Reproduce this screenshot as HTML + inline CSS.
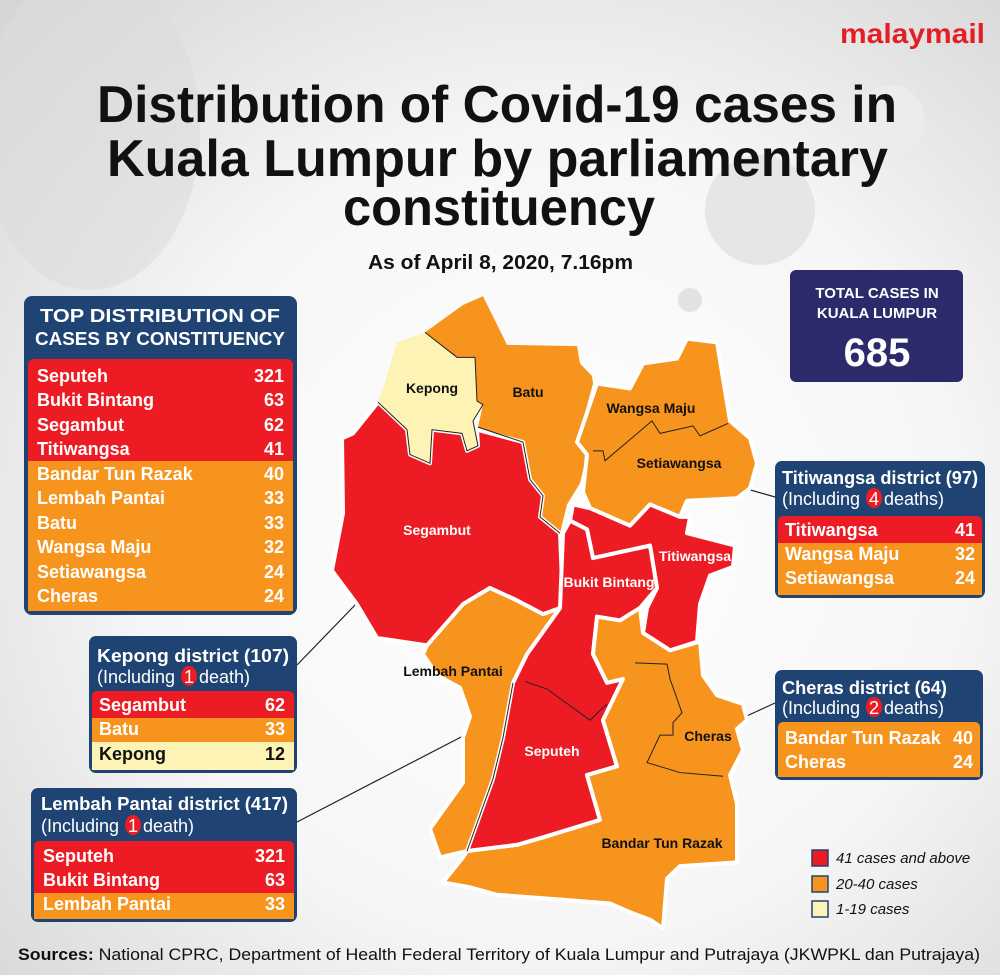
<!DOCTYPE html>
<html><head><meta charset="utf-8"><style>
html,body{margin:0;padding:0;}
body{width:1000px;height:975px;overflow:hidden;font-family:"Liberation Sans",sans-serif;}
</style></head><body>
<svg width="1000" height="975" viewBox="0 0 1000 975" xmlns="http://www.w3.org/2000/svg" font-family="Liberation Sans, sans-serif">
<defs>
<radialGradient id="bg" cx="0.55" cy="0.55" r="0.75">
<stop offset="0" stop-color="#ffffff"/><stop offset="0.55" stop-color="#f6f6f6"/><stop offset="1" stop-color="#d6d6d6"/>
</radialGradient>
</defs>
<rect width="1000" height="975" fill="url(#bg)"/>
<circle cx="760" cy="210" r="55" fill="#e6e6e6"/>
<circle cx="690" cy="300" r="12" fill="#e2e2e2"/>
<circle cx="890" cy="120" r="35" fill="#ececec"/>
<ellipse cx="90" cy="130" rx="110" ry="160" fill="#dcdcdc" opacity="0.6"/>

<text x="985" y="43" text-anchor="end" font-size="28" font-weight="bold" fill="#e31e24" textLength="145" lengthAdjust="spacingAndGlyphs">malaymail</text>

<g font-weight="bold" fill="#111" text-anchor="start">
<text x="97" y="122" font-size="52" textLength="800" lengthAdjust="spacingAndGlyphs">Distribution of Covid-19 cases in</text>
<text x="107" y="176" font-size="52" textLength="781" lengthAdjust="spacingAndGlyphs">Kuala Lumpur by parliamentary</text>
<text x="343" y="225" font-size="52" textLength="312" lengthAdjust="spacingAndGlyphs">constituency</text>
<text x="368" y="269" font-size="20" textLength="265" lengthAdjust="spacingAndGlyphs">As of April 8, 2020, 7.16pm</text>
</g>

<g stroke="#222" stroke-width="1.2">
<line x1="775" y1="497" x2="740" y2="487"/>
<line x1="775" y1="703" x2="738" y2="720"/>
<line x1="297" y1="665" x2="357" y2="603"/>
<line x1="297" y1="822" x2="465" y2="735"/>
</g>

<g transform="translate(0,280) scale(1,1.247) translate(0,-280)">
<g stroke="#fff" stroke-width="4" stroke-linejoin="round">
<polygon fill="#f7941d" points="425,322 463,300 483,293 507,332 577,333 580,347 592,357 593,363 577,410 587,420 580,443 567,460 560,483 540,470 543,453 530,440 523,410 478,398 483,380 477,377 475,342 457,342" stroke="none"/>
<polygon vector-effect="non-scaling-stroke" fill="#ed1c24" points="378,378 407,400 410,420 430,427 432,400 462,403 467,417 478,413 477,400 523,410 530,440 543,453 540,470 560,483 563,543 543,548 517,537 490,527 463,540 453,560 427,573 377,567 357,540 332,513 343,467 342,407 353,403"/>
<polygon fill="#fdf3b5" points="397,330 425,322 457,342 475,342 477,377 483,380 473,393 478,413 467,417 462,403 432,400 430,427 410,420 407,400 378,378 385,362" stroke="none"/>
<polygon vector-effect="non-scaling-stroke" fill="#f7941d" points="597,363 630,367 643,347 677,343 687,327 717,330 730,393 750,407 757,427 750,447 737,455 687,457 680,470 650,460 630,477 590,463 583,450 587,420 577,410"/>
<polygon vector-effect="non-scaling-stroke" fill="#ed1c24" points="650,460 680,470 690,470 687,483 735,493 733,510 710,517 700,540 697,570 670,577 643,563 647,543 657,527 650,493 593,503 587,480 570,473 573,460 590,463 630,477"/>
<polygon vector-effect="non-scaling-stroke" fill="#ed1c24" points="570,473 587,480 593,503 650,493 657,527 640,543 620,553 597,550 593,580 607,603 623,600 603,633 617,670 587,677 600,713 543,727 517,733 467,738 493,680 503,647 513,603 527,580 560,543 563,483"/>
<polygon vector-effect="non-scaling-stroke" fill="#f7941d" points="427,573 463,540 490,527 517,537 543,548 560,543 527,580 513,603 503,647 493,680 467,738 440,743 430,720 463,683 463,647 470,630 460,607 437,597 423,580"/>
<polygon vector-effect="non-scaling-stroke" fill="#f7941d" points="597,550 620,553 640,543 643,563 670,577 700,570 703,597 717,613 743,620 747,633 737,640 743,657 730,677 737,700 737,747 680,750 667,760 663,800 650,793 630,787 610,780 563,777 497,773 470,767 443,763 463,743 467,738 517,733 543,727 600,713 587,677 617,670 603,633 623,600 607,603 593,580"/>
</g>
<g fill="none" stroke="#222" stroke-width="1" vector-effect="non-scaling-stroke">
<polyline vector-effect="non-scaling-stroke" points="425,322 457,342 475,342 477,377 483,380 473,393 478,413 467,417 462,403 432,400 430,427 410,420 407,400 378,378"/>
<polyline vector-effect="non-scaling-stroke" points="478,398 523,410 530,440 543,453 540,470 560,483"/>
<polyline vector-effect="non-scaling-stroke" points="593,417 603,417 605,425 652,393 660,403 693,397 700,405 728,395"/>
<polyline vector-effect="non-scaling-stroke" points="525,602 547,608 590,633 607,620"/>
<polyline vector-effect="non-scaling-stroke" points="513,603 503,647 493,680 467,738"/>
<polyline vector-effect="non-scaling-stroke" points="635,587 667,588 670,600 682,627 673,635 673,645 660,645 647,667 680,675 723,678"/>
</g>
</g>
<g font-size="14" font-weight="bold" text-anchor="middle">
<text x="432" y="393" fill="#111">Kepong</text>
<text x="528" y="397" fill="#111">Batu</text>
<text x="651" y="413" fill="#111">Wangsa Maju</text>
<text x="679" y="468" fill="#111">Setiawangsa</text>
<text x="437" y="535" fill="#fff">Segambut</text>
<text x="695" y="561" fill="#fff">Titiwangsa</text>
<text x="609" y="587" fill="#fff">Bukit Bintang</text>
<text x="453" y="676" fill="#111">Lembah Pantai</text>
<text x="552" y="756" fill="#fff">Seputeh</text>
<text x="708" y="741" fill="#111">Cheras</text>
<text x="662" y="848" fill="#111">Bandar Tun Razak</text>
</g>

<rect x="24" y="296" width="273" height="319" rx="8" fill="#1f4473"/>
<path d="M28,365 a6,6 0 0 1 6,-6 h253 a6,6 0 0 1 6,6 V461 H28Z" fill="#ed1c24"/>
<rect x="28" y="461" width="265" height="150" fill="#f7941d"/>
<g fill="#fff" font-weight="bold" text-anchor="middle" font-size="18">
<text x="160" y="322" textLength="240" lengthAdjust="spacingAndGlyphs">TOP DISTRIBUTION OF</text>
<text x="160" y="345" textLength="250" lengthAdjust="spacingAndGlyphs">CASES BY CONSTITUENCY</text>
</g>
<g fill="#fff" font-weight="bold" font-size="18">
<text x="37" y="382">Seputeh</text><text x="37" y="406">Bukit Bintang</text><text x="37" y="431">Segambut</text><text x="37" y="455">Titiwangsa</text>
<text x="37" y="480">Bandar Tun Razak</text><text x="37" y="504">Lembah Pantai</text><text x="37" y="529">Batu</text><text x="37" y="553">Wangsa Maju</text><text x="37" y="578">Setiawangsa</text><text x="37" y="602">Cheras</text>
</g>
<g fill="#fff" font-weight="bold" font-size="18" text-anchor="end">
<text x="284" y="382">321</text><text x="284" y="406">63</text><text x="284" y="431">62</text><text x="284" y="455">41</text>
<text x="284" y="480">40</text><text x="284" y="504">33</text><text x="284" y="529">33</text><text x="284" y="553">32</text><text x="284" y="578">24</text><text x="284" y="602">24</text>
</g>

<rect x="790" y="270" width="173" height="112" rx="6" fill="#2b2a6b"/>
<g fill="#fff" font-weight="bold" text-anchor="middle">
<text x="877" y="298" font-size="15">TOTAL CASES IN</text>
<text x="877" y="318" font-size="15">KUALA LUMPUR</text>
<text x="877" y="366" font-size="40">685</text>
</g>

<rect x="775" y="461" width="210" height="137" rx="7" fill="#1f4473"/>
<path d="M778,521 a5,5 0 0 1 5,-5 h194 a5,5 0 0 1 5,5 V543 H778Z" fill="#ed1c24"/>
<rect x="778" y="543" width="204" height="52" fill="#f7941d"/>
<g fill="#fff" font-size="18">
<text x="782" y="484" font-weight="bold" textLength="196" lengthAdjust="spacingAndGlyphs">Titiwangsa district (97)</text>
<text x="782" y="505">(Including</text><ellipse cx="874" cy="498" rx="8" ry="10" fill="#ed1c24"/><text x="874" y="505" text-anchor="middle">4</text><text x="884" y="505">deaths)</text>
</g>
<g fill="#fff" font-size="18" font-weight="bold">
<text x="785" y="536">Titiwangsa</text><text x="785" y="560">Wangsa Maju</text><text x="785" y="584">Setiawangsa</text>
<text x="975" y="536" text-anchor="end">41</text><text x="975" y="560" text-anchor="end">32</text><text x="975" y="584" text-anchor="end">24</text>
</g>

<rect x="89" y="636" width="208" height="137" rx="7" fill="#1f4473"/>
<path d="M92,696 a5,5 0 0 1 5,-5 h192 a5,5 0 0 1 5,5 V718 H92Z" fill="#ed1c24"/>
<rect x="92" y="718" width="202" height="24" fill="#f7941d"/>
<rect x="92" y="742" width="202" height="28" fill="#fdf3b5"/>
<g fill="#fff" font-size="18">
<text x="97" y="662" font-weight="bold" textLength="192" lengthAdjust="spacingAndGlyphs">Kepong district (107)</text>
<text x="97" y="683">(Including</text><ellipse cx="189" cy="676" rx="8" ry="10" fill="#ed1c24"/><text x="189" y="683" text-anchor="middle">1</text><text x="199" y="683">death)</text>
</g>
<g font-size="18" font-weight="bold">
<text x="99" y="711" fill="#fff">Segambut</text><text x="99" y="735" fill="#fff">Batu</text><text x="99" y="760" fill="#111">Kepong</text>
<text x="285" y="711" fill="#fff" text-anchor="end">62</text><text x="285" y="735" fill="#fff" text-anchor="end">33</text><text x="285" y="760" fill="#111" text-anchor="end">12</text>
</g>

<rect x="775" y="670" width="208" height="110" rx="7" fill="#1f4473"/>
<path d="M778,727 a5,5 0 0 1 5,-5 h192 a5,5 0 0 1 5,5 V777 H778Z" fill="#f7941d"/>
<g fill="#fff" font-size="18">
<text x="782" y="694" font-weight="bold" textLength="165" lengthAdjust="spacingAndGlyphs">Cheras district (64)</text>
<text x="782" y="714">(Including</text><ellipse cx="874" cy="707" rx="8" ry="10" fill="#ed1c24"/><text x="874" y="714" text-anchor="middle">2</text><text x="884" y="714">deaths)</text>
</g>
<g fill="#fff" font-size="18" font-weight="bold">
<text x="785" y="744">Bandar Tun Razak</text><text x="785" y="768">Cheras</text>
<text x="973" y="744" text-anchor="end">40</text><text x="973" y="768" text-anchor="end">24</text>
</g>

<rect x="31" y="788" width="266" height="134" rx="7" fill="#1f4473"/>
<path d="M34,846 a5,5 0 0 1 5,-5 h250 a5,5 0 0 1 5,5 V893 H34Z" fill="#ed1c24"/>
<rect x="34" y="893" width="260" height="26" fill="#f7941d"/>
<g fill="#fff" font-size="18">
<text x="41" y="810" font-weight="bold" textLength="247" lengthAdjust="spacingAndGlyphs">Lembah Pantai district (417)</text>
<text x="41" y="832">(Including</text><ellipse cx="133" cy="825" rx="8" ry="10" fill="#ed1c24"/><text x="133" y="832" text-anchor="middle">1</text><text x="143" y="832">death)</text>
</g>
<g fill="#fff" font-size="18" font-weight="bold">
<text x="43" y="862">Seputeh</text><text x="43" y="886">Bukit Bintang</text><text x="43" y="910">Lembah Pantai</text>
<text x="285" y="862" text-anchor="end">321</text><text x="285" y="886" text-anchor="end">63</text><text x="285" y="910" text-anchor="end">33</text>
</g>

<rect x="812" y="850" width="16" height="16" fill="#ed1c24" stroke="#1f4473" stroke-width="1.5"/>
<rect x="812" y="876" width="16" height="16" fill="#f7941d" stroke="#1f4473" stroke-width="1.5"/>
<rect x="812" y="901" width="16" height="16" fill="#fdf3b5" stroke="#1f4473" stroke-width="1.5"/>
<g font-size="15" font-style="italic" fill="#111">
<text x="836" y="863">41 cases and above</text>
<text x="836" y="889">20-40 cases</text>
<text x="836" y="914">1-19 cases</text>
</g>

<text x="18" y="960" font-size="16.5" fill="#111" textLength="962" lengthAdjust="spacingAndGlyphs"><tspan font-weight="bold">Sources:</tspan> National CPRC, Department of Health Federal Territory of Kuala Lumpur and Putrajaya (JKWPKL dan Putrajaya)</text>
</svg>
</body></html>
